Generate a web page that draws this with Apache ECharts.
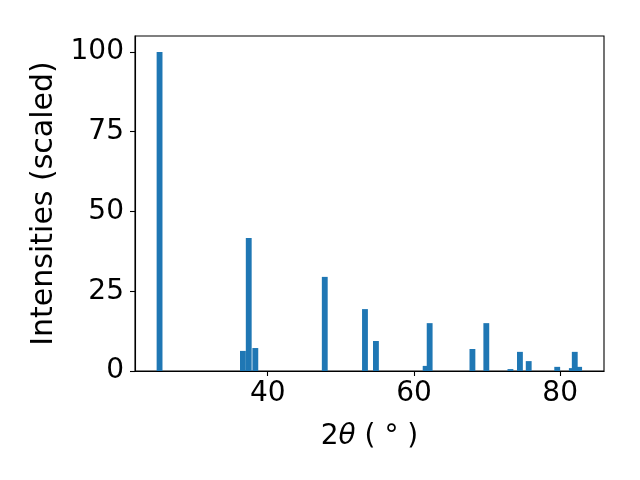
<!DOCTYPE html>
<html>
<head>
<meta charset="utf-8">
<script src="https://cdn.jsdelivr.net/npm/echarts@6/dist/echarts.min.js"></script>
<style>html,body{margin:0;padding:0;background:#fff}#c{width:640px;height:480px}</style>
</head>
<body>
<div id="c"></div>
<script>
const positions = [25.2, 36.6, 37.4, 38.3, 47.8, 53.3, 54.8, 61.6, 62.15, 68.0, 69.9, 73.2, 74.5, 75.7, 79.6, 81.6, 82.6, 82.0];
const intensities = [100, 6.3, 41.7, 7.2, 29.5, 19.4, 9.4, 1.6, 15.0, 6.9, 15.0, 0.6, 6.0, 3.1, 1.3, 0.9, 1.3, 6.0];
const xTicks = [40, 60, 80];
const yTicks = [0, 25, 50, 75, 100];
const barWidthDeg = 0.8;

const data = positions.map((p, i) => [p, intensities[i]]);
const font = 'DejaVu Sans';
const fs = 28;
const chart = echarts.init(document.getElementById('c'), null, {renderer: 'canvas'});
chart.setOption({
  animation: false,
  backgroundColor: '#fff',
  grid: {left: 135, right: 36, top: 36, bottom: 109, show: true, borderColor: '#000', borderWidth: 1.1, backgroundColor: 'transparent'},
  xAxis: {
    type: 'value', min: 21.84, max: 86.0,
    axisLine: {show: true, onZero: false, lineStyle: {color: '#000', width: 1.1}},
    axisTick: {show: true, customValues: xTicks, length: 5, lineStyle: {color: '#000', width: 1.1}},
    axisLabel: {customValues: xTicks, color: '#000', fontSize: fs, fontFamily: font, margin: 9},
    splitLine: {show: false},
    name: '{a|2}{b|θ}{a| ( ° )}', nameLocation: 'middle', nameGap: 52,
    nameTextStyle: {rich: {a: {fontSize: fs, fontFamily: font, color: '#000'}, b: {fontSize: fs, fontFamily: font, fontStyle: 'italic', color: '#000'}}}
  },
  yAxis: {
    type: 'value', min: 0, max: 105,
    axisLine: {show: true, lineStyle: {color: '#000', width: 1.1}},
    axisTick: {show: true, customValues: yTicks, length: 5, lineStyle: {color: '#000', width: 1.1}},
    axisLabel: {customValues: yTicks, color: '#000', fontSize: fs, fontFamily: font, margin: 11},
    splitLine: {show: false},
    name: 'Intensities (scaled)', nameLocation: 'middle', nameGap: 75,
    nameTextStyle: {fontSize: 30, fontFamily: font, color: '#000'}
  },
  series: [{
    type: 'custom',
    data: data,
    renderItem: function (params, api) {
      const x = api.value(0), y = api.value(1);
      const p0 = api.coord([x - barWidthDeg / 2, y]);
      const p1 = api.coord([x + barWidthDeg / 2, 0]);
      return {type: 'rect', shape: {x: p0[0], y: p0[1], width: p1[0] - p0[0], height: p1[1] - p0[1]}, style: {fill: '#1f77b4'}};
    }
  }]
});
</script>
</body>
</html>
